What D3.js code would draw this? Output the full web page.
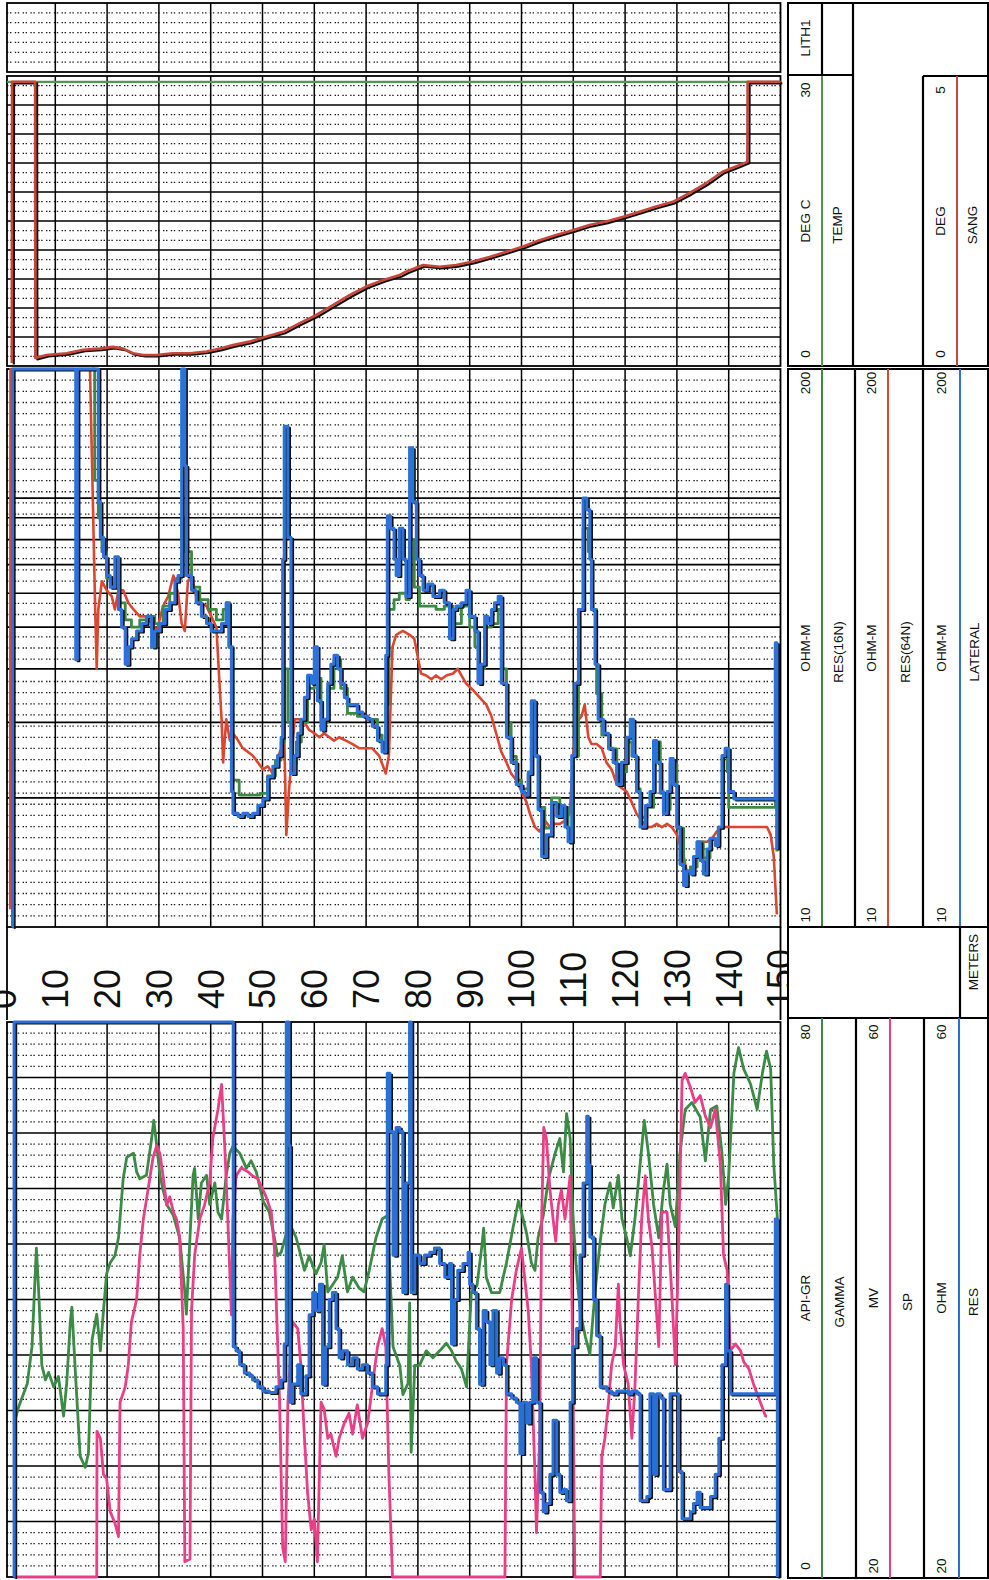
<!DOCTYPE html>
<html>
<head>
<meta charset="utf-8">
<script src="https://cdn.jsdelivr.net/npm/d3@7"></script>
<style>
  body { margin: 0; background: #fff; }
  svg { display: block; }
  text { font-family: "Liberation Sans", Arial, sans-serif; fill: #111; }
</style>
</head>
<body>
<div id="log"></div>
<script>
// depth in metres, values
const depthTicks = [0, 10, 20, 30, 40, 50, 60, 70, 80, 90, 100, 110, 120, 130, 140, 150];

const track1Heads = [
  { name: "GAMMA", unit: "API-GR", lo: "0", hi: "80" },
  { name: "SP", unit: "MV", lo: "20", hi: "60" },
  { name: "RES", unit: "OHM", lo: "20", hi: "60" }
];
const track2Heads = [
  { name: "RES(16N)", unit: "OHM-M", lo: "10", hi: "200" },
  { name: "RES(64N)", unit: "OHM-M", lo: "10", hi: "200" },
  { name: "LATERAL", unit: "OHM-M", lo: "10", hi: "200" }
];
const track3Heads = [
  { name: "TEMP", unit: "DEG C", lo: "0", hi: "30" },
  { name: "SANG", unit: "DEG", lo: "0", hi: "5" }
];

// track 1
const grData = [[2.0,22],[3.0,24.7],[4.6,27.9],[5.5,33.2],[6.35,47.4],[6.8,41],[7.4,30.5],[8.1,28.4],[8.7,29.5],[9.7,27.4],[10.6,28.9],[11.6,23.2],[12.2,27.9],[12.9,36.8],[13.2,38.9],[13.8,30.5],[14.8,17.4],[15.8,15.8],[16.4,17.9],[17.1,34.2],[18.0,37.9],[18.7,32.6],[19.3,38.4],[19.9,43.7],[20.6,45.3],[21.5,46.3],[22.2,48.9],[23.1,57.4],[23.8,60.5],[25.1,61.1],[25.7,58.4],[26.3,57.4],[27.6,57.9],[28.6,63.2],[29.0,65.8],[29.6,62.1],[30.2,57.9],[30.8,55.8],[31.5,53.7],[32.8,52.1],[34.0,48.9],[35.0,41.1],[35.3,37.9],[36.0,48.9],[36.6,57.9],[36.9,58.9],[37.6,51.6],[38.2,56.8],[39.2,57.9],[39.8,53.7],[40.8,56.8],[41.4,52.6],[42.1,51.6],[43.0,57.9],[43.7,61.1],[44.3,62.1],[45.6,61.1],[46.9,58.9],[47.8,60],[48.8,58.4],[50.1,54.2],[51.3,52.6],[52.3,48.9],[52.9,46.3],[53.6,46.8],[54.6,49.5],[55.5,50.5],[56.5,48.9],[57.4,46.3],[58.1,44.2],[59.0,46.3],[60.3,43.7],[61.3,45.3],[61.9,47.9],[62.6,41.1],[63.5,42.1],[64.5,43.2],[65.4,46.3],[66.4,41.1],[67.4,43.2],[68.7,41.6],[69.6,41.1],[70.6,44.2],[71.9,48.9],[73.1,51.6],[74.1,52.1],[74.6,44],[75.2,33.2],[76.5,30.5],[77.1,26.3],[78.1,27.9],[78.4,39.5],[78.7,18],[79.4,30.5],[80.3,30.5],[81.6,32.6],[82.9,31.6],[84.2,32.6],[85.5,33.7],[86.5,32.6],[87.4,31.1],[88.4,30],[89.4,27.4],[90.3,41],[91.4,42],[92.3,47.4],[92.7,50.3],[93.2,43.2],[94.2,41],[95.8,41],[97.1,45.3],[98.4,50.5],[99.4,54.2],[100,52.6],[101,49.5],[101.9,45.3],[102.6,44.2],[103.2,48.9],[104.2,52.1],[105.2,57.4],[106.5,61.1],[107.4,63.2],[108.1,58.4],[108.7,66.8],[109.4,63.2],[109.9,52.6],[110.5,45.3],[111.3,38.4],[112.3,34.7],[113.2,32.1],[114.2,41.1],[115.2,48.4],[116.1,53.7],[117.1,56.8],[117.7,53.2],[118.7,57.9],[119.4,51.6],[120.3,48.9],[121,46.3],[121.9,51.6],[122.9,59.5],[123.7,65.8],[124.5,61.1],[125.5,53.7],[126.5,48.9],[127.4,55.8],[128.1,59.5],[128.7,53.7],[129.7,50.5],[130.6,61.1],[131.6,67.4],[132.9,68.4],[134.5,66.3],[135.5,60],[136.5,67.4],[137.7,67.9],[138.7,61.1],[139.4,53.7],[140,57.9],[141,72.6],[141.9,76.3],[142.9,73.2],[144.2,71.1],[145.5,67.4],[146.5,72.6],[147.3,75.8],[148.1,73.2],[148.7,59.5],[149.4,51.6]];

const spData = [[2.0,20],[18.0,20],[18.05,30.5],[18.7,30],[19.3,27.4],[19.9,27.1],[20.6,24.7],[21.5,23.9],[22.2,22.9],[22.5,32.6],[23.5,33.7],[24.1,35.3],[24.7,38.4],[25.7,40],[26.3,43.2],[27.0,45.8],[27.9,47.9],[28.9,50.3],[29.6,51.1],[30.2,50.5],[30.8,48.9],[31.5,46.8],[32.1,47.4],[32.8,46.3],[33.4,45.8],[34.0,44.5],[34.7,37.9],[35.0,21.1],[36.0,21.3],[36.3,39.2],[36.9,43.2],[37.9,45.8],[38.8,46.8],[39.8,48.4],[40.4,51.6],[41.4,53.7],[42.1,55.5],[42.7,51.1],[43.3,45.8],[44.0,38.9],[44.3,45.8],[44.9,48.9],[45.9,49.5],[47.2,49.2],[48.1,48.9],[49.1,48.7],[50.1,47.9],[50.7,47.4],[51.7,46.3],[52.3,43.7],[52.6,40.5],[53.3,32.6],[53.9,22.1],[54.4,21.1],[54.9,32.6],[55.8,38.4],[56.8,37.9],[57.4,35.3],[58.1,30],[58.7,26.1],[59.4,23.4],[60,24.2],[60.6,21.1],[61.3,32.6],[61.9,32.1],[62.6,30],[63.2,30.3],[64.2,28.7],[64.8,30],[65.8,31.1],[66.7,31.8],[67.4,30.3],[68.3,32.4],[69.3,30],[70.3,31.1],[71.2,33.7],[72.2,36.6],[73.1,37.9],[73.8,36.6],[74.4,27.4],[75.1,20],[96.8,20],[97.1,35.3],[98.1,40],[99.0,42.1],[100,43.7],[100.6,41.6],[101.3,39.2],[101.9,35.3],[102.6,27.4],[102.9,23.2],[103.5,30],[103.9,45.8],[104.3,52.4],[104.8,51.6],[105.5,47.9],[106.1,45.8],[106.6,44.2],[107.1,46.8],[107.7,47.9],[108.4,45.8],[109.4,48.9],[109.9,35.5],[110.3,20],[115.2,20],[115.5,28.7],[116.1,30],[116.8,32.6],[117.4,35.3],[118.1,36.6],[118.7,41.1],[119,38.4],[119.7,35.3],[120.6,33.9],[121.3,30],[121.9,33.7],[122.6,40.5],[123.2,45.8],[123.9,48.9],[124.5,45.8],[125.2,43.7],[125.8,40.5],[126.5,36.6],[127.1,46.3],[128.1,46.3],[129,40.5],[129.7,35.3],[130.3,43.2],[131,55.8],[131.6,56.3],[132.6,55.3],[133.5,54.2],[134.5,54.7],[135.5,53.2],[136.5,52.4],[137.4,53.7],[138.4,49.7],[139,43.2],[139.7,42.1],[140.3,36.3],[141.3,36.8],[142.3,36.3],[142.9,35.5],[143.9,35],[144.8,33.9],[146.1,32.6],[147.1,31.6],[147.4,31.6]];

const resData = [[2.0,20],[2.05,60],[44.3,60],[44.35,36.6],[44.9,36.3],[45.6,35.3],[46.5,34.7],[47.5,34.5],[48.1,34.2],[49.1,33.7],[50.1,33.4],[51.3,33.3],[52.6,33.7],[53.6,34.2],[54.2,36.8],[54.6,60],[55.1,51.1],[55.3,32.6],[55.8,33.9],[56.8,35.3],[57.4,33.2],[58.4,34.5],[59.0,38.9],[59.7,40.5],[60.3,39.2],[61.0,41.1],[61.6,33.9],[62.2,36.6],[62.9,40],[63.5,40.5],[64.2,37.9],[64.8,35.8],[65.4,36.3],[66.4,35.3],[67.4,35.8],[68.3,35],[69.3,35.3],[70.3,34.7],[71.2,33.7],[72.2,33.2],[73.1,33.2],[73.8,35.3],[74.1,56.3],[74.6,52.1],[75.2,43.2],[75.8,52.4],[76.5,52.1],[77.1,40.5],[77.7,48.4],[78.4,60],[78.7,40.5],[79.4,43.2],[80.3,42.6],[81.3,43.2],[82.3,43.4],[83.2,43.7],[84.2,42.6],[85.2,41.6],[86.1,42.6],[86.5,36.8],[87.1,40],[87.7,42.1],[88.7,42.6],[89.7,43.4],[90.0,41.1],[90.6,40.5],[91.3,37.9],[91.9,33.9],[92.6,39.2],[93.2,38.4],[93.9,35.3],[94.5,39.2],[95.2,34.7],[95.8,35.8],[96.5,35.3],[97.1,33.2],[98.1,32.9],[99.0,32.6],[99.7,28.9],[100.3,32.6],[101.0,31.1],[101.6,32.6],[102.3,35.8],[102.9,32.6],[103.6,26.1],[104.2,24.7],[104.8,25.3],[105.5,27.4],[106.1,31.3],[106.8,27.4],[107.4,26.1],[108.1,26.3],[108.7,25.5],[109.4,32.6],[109.9,36.6],[110.6,37.9],[111.3,43.2],[111.9,48.4],[112.6,53.2],[112.9,49.7],[113.2,44.5],[113.9,40],[114.5,37.4],[115.2,33.7],[116.5,33.4],[117.4,33.2],[118.4,33.4],[119.7,33.4],[120.6,33.2],[121.3,33.4],[122.3,33.2],[122.9,25.5],[124.2,25.8],[124.8,33.2],[125.5,27.4],[126.1,33.2],[126.8,32.9],[127.4,26.3],[128.4,26.3],[128.7,33.2],[129.7,33.2],[130.3,27.6],[131.0,24.2],[131.9,24.2],[132.6,24.7],[133.2,25.3],[133.9,26.1],[134.5,25],[135.5,25],[136.5,25.8],[137.4,27.4],[138.1,30],[138.7,35.3],[139.4,41.1],[139.7,36.3],[140.3,33.2],[148.7,33.2],[149.0,45.8],[149.4,20]];

// track 2 (log ohm-m)
const res16Data = [[17.0,200],[17.6,110],[18.3,90],[19.0,75],[19.9,65],[21.0,62],[22.2,57],[23.5,52],[24.7,50],[26.3,52],[27.6,53],[29.2,51],[30.8,56],[32.1,60],[33.4,65],[34.4,90],[35.0,75],[36.3,62],[37.9,58],[39.5,55],[41.1,52],[42.4,55],[43.0,57],[43.7,45],[44.3,22],[45.5,20.3],[47.5,20.3],[49.5,20.5],[51.0,22.5],[52.5,24.5],[53.6,27],[54.2,40],[54.9,30],[55.5,24],[56.5,27],[57.5,30],[58.7,36],[60.0,38],[61.3,30],[62.6,36],[63.8,42],[65.1,36],[66.4,31.5],[68.3,31],[70.3,30.5],[72.2,28],[73.1,26],[73.8,33],[74.4,55],[75.4,58],[76.4,60],[77.7,58],[78.4,80],[79.3,62],[80.3,56],[81.9,56],[83.5,55],[85.1,56],[86.8,51],[88.4,56],[90.0,50],[91.0,45],[91.9,40],[92.9,50],[94.2,51],[95.5,55],[96.1,40],[97.1,30],[98.0,25],[99.0,22],[100.0,21],[101.3,23],[101.9,30],[102.6,25],[103.5,19],[104.5,17],[105.8,20],[107.4,19],[109.0,17],[110.0,25],[111.0,55],[111.9,85],[112.9,75],[113.5,55],[114.5,35],[115.5,28],[116.8,26],[118.4,22.5],[119.3,23],[120.3,27],[121.3,25],[122.2,21],[122.9,18],[124.2,19],[125.5,27],[126.8,20.5],[127.4,18.8],[128.7,24],[130.0,17],[131.3,13.5],[132.6,13.8],[133.9,15.8],[135.1,14.5],[136.4,16],[138.0,17],[139.0,25],[139.7,23],[140.0,19],[141.0,19],[148.1,19],[149.0,45],[149.3,15]];

const res64Data = [[1.3,11],[1.35,200],[16.7,200],[17.1,119],[17.4,81],[17.7,55],[18.0,40],[18.3,55],[19.0,64],[19.9,61],[20.9,59],[21.5,55],[22.2,61],[23.1,61],[24.1,57],[25.1,55],[26.3,53],[27.6,53],[28.6,51],[29.6,49],[30.8,56],[31.8,59],[32.8,66],[33.7,60],[34.4,51],[35.0,49],[35.6,64],[36.3,66],[37.2,59],[38.2,57],[39.2,56],[40.1,53],[41.1,50],[41.7,37],[42.1,30.5],[42.4,24.2],[43.0,30.5],[43.7,27.2],[44.3,28.3],[45.3,27.2],[46.2,26.1],[47.2,25.6],[48.1,25.1],[49.1,24.2],[50.1,23.3],[51.0,23.7],[52.0,22.8],[52.9,24.7],[53.6,26.1],[54.2,27.7],[54.6,16.4],[55.1,20.7],[55.5,23.7],[56.2,30.5],[57.1,30.5],[58.1,30],[59.0,28.8],[60.0,28.3],[61.0,27.7],[61.9,28.3],[62.9,27.7],[63.8,27.2],[64.8,27.7],[66.1,27.2],[67.4,26.7],[68.7,26.1],[69.9,26.1],[71.2,26.1],[72.5,25.1],[73.8,22.8],[74.4,25.1],[75.1,45],[75.8,48],[77.1,49],[78.4,48],[79.3,47],[80.0,42.5],[80.6,39],[81.6,38.6],[82.6,37.8],[83.5,38.6],[84.5,37.8],[85.5,38.6],[86.8,39],[87.7,40],[88.4,38.6],[89.3,37],[90.6,35.7],[91.9,34.3],[93.2,33],[94.2,31],[95.1,28.3],[96.1,25.6],[97.1,24.2],[98.0,22.8],[99.0,22],[100.0,20.7],[101.0,19.5],[101.6,18.4],[102.6,17.1],[103.5,16.7],[104.5,17.7],[105.5,17.1],[106.4,17.4],[107.4,17.4],[108.4,17.7],[109.3,18.4],[110.0,25.1],[110.6,30],[111.6,31],[112.2,33],[112.9,27.7],[113.5,26.7],[114.5,26.7],[115.5,26.1],[116.4,24.2],[117.4,23.3],[118.4,21.5],[119.3,21.1],[120.3,20.7],[121.3,19.5],[122.2,18.4],[123.2,17.7],[124.2,17.1],[125.1,17.1],[126.1,17.4],[127.1,17.1],[128.1,17.4],[129.0,17.1],[130.0,16.4],[130.6,15.5],[131.3,14.6],[131.9,13.5],[132.9,13.5],[133.9,14.6],[134.8,15.8],[135.8,15.8],[136.8,16.1],[137.7,16.7],[138.7,17.1],[139.7,17.1],[147.4,17.1],[148.1,16.4],[148.7,14.6],[149.3,10.7]];

const lateralData = [[1.7,10],[1.75,200],[13.9,200],[13.95,42],[14.2,42],[14.25,200],[18.0,200],[18.3,98],[18.7,81],[19.3,73],[19.9,66],[20.6,62],[21.5,73],[22.2,55],[22.8,50],[23.5,41],[24.1,45],[24.7,47],[25.7,49],[26.7,51],[27.6,53],[28.6,45],[29.2,49],[30.2,51],[31.2,55],[32.1,57],[33.1,64],[33.7,66],[34.4,200],[35.0,119],[35.3,66],[36.3,61],[37.2,57],[38.2,53],[39.2,51],[40.1,49],[41.1,49],[42.1,51],[43.0,57],[43.5,45],[44.0,20.7],[44.3,18.4],[45.3,18.1],[46.2,18.4],[47.2,18.1],[48.1,18.4],[49.1,19.2],[50.1,19.9],[51.0,22.4],[52.0,23.7],[52.9,25.1],[53.6,27.7],[53.9,72],[54.2,147],[54.9,81],[55.5,22.8],[56.2,25.1],[56.8,28.3],[57.4,30.5],[58.1,34.3],[58.7,38.6],[59.4,37],[60.0,45],[60.6,33.7],[61.3,28.8],[61.9,30.5],[62.6,37],[63.2,41],[63.8,43],[64.5,40],[65.1,37],[65.8,34.3],[66.4,33],[67.4,33],[68.3,31.7],[69.3,31],[70.3,30.5],[71.2,29.4],[72.2,27.2],[73.1,25.6],[73.8,43],[74.1,91],[74.7,85],[75.4,72],[75.8,66],[76.4,85],[77.1,72],[77.7,59],[78.4,131],[79.0,98],[79.7,72],[80.3,66],[81.0,61],[81.9,63],[82.9,59],[84.2,61],[85.1,57],[86.1,47],[86.8,55],[87.4,56],[88.4,57],[89.3,61],[90.0,53],[91.0,49],[91.6,37],[92.2,41],[92.9,53],[93.5,51],[94.2,55],[94.8,57],[95.5,59],[96.1,37],[97.1,27.7],[98.0,24.2],[99.0,21.5],[100.0,20.7],[100.6,20.3],[101.3,22.8],[101.9,33.7],[102.6,25.1],[103.2,18.8],[103.9,14.6],[104.8,16.4],[105.8,19.5],[106.8,18.1],[107.7,19.2],[108.4,17.1],[109.0,15.8],[109.7,25.1],[110.3,37],[111.0,55],[111.9,100],[112.6,94],[113.2,72],[113.5,55],[114.2,41],[114.8,30.5],[115.8,28.3],[116.8,26.1],[117.7,24.2],[118.4,21.5],[119.3,24.2],[120.3,27.7],[121.0,30.5],[121.6,25.1],[122.2,20.7],[122.9,17.1],[123.9,19.2],[124.8,20.7],[125.5,27.2],[126.1,24.2],[126.8,20.7],[127.4,18.4],[128.1,20.7],[128.7,24.7],[129.3,21.5],[130.0,17.1],[130.6,14],[131.3,12.5],[131.9,13.5],[132.6,13.3],[133.2,14.6],[133.9,15.8],[134.5,14.3],[135.1,13.3],[135.8,15.2],[136.4,16.1],[137.4,15.5],[138.0,17.1],[138.7,25.1],[139.3,26.1],[140.0,20.7],[141.0,19.9],[148.7,19.9],[149.0,46],[149.3,15.2]];

// track 3
const tempData = [[0.7,29.4],[75,29.4],[150,29.4]];
const sangData = [[1.6,0.05],[1.65,4.9],[6.1,4.9],[6.15,0.14],[8.3,0.19],[12.2,0.22],[15.4,0.28],[18.6,0.30],[21.1,0.33],[23.1,0.30],[25.0,0.22],[27.0,0.19],[29.5,0.19],[32.7,0.22],[36.0,0.22],[39.2,0.25],[41.8,0.30],[44.3,0.36],[47.5,0.42],[50.8,0.51],[54.0,0.59],[57.2,0.74],[60.4,0.88],[63.6,1.05],[66.8,1.22],[70.0,1.37],[73.2,1.48],[76.5,1.57],[77.8,1.63],[81.0,1.74],[84.2,1.71],[87.4,1.74],[90.6,1.80],[93.8,1.88],[97.1,1.97],[100.3,2.06],[103.5,2.17],[106.7,2.26],[109.9,2.34],[113.1,2.43],[116.3,2.49],[119.5,2.57],[122.8,2.66],[126.0,2.75],[129.2,2.83],[132.4,2.98],[135.6,3.15],[138.8,3.35],[141.4,3.44],[143.6,3.52],[143.65,4.9],[150,4.9]];

const W = 989, H = 1580;
const X0 = 7, X1 = 780.5;
const T = { lith: [3, 72], t3: [76, 366], t2: [369, 927], depth: [927, 1020], t1: [1022, 1577] };

const x = d3.scaleLinear().domain([0, 150]).range([3.5, 780.5]);
const yGR = d3.scaleLinear().domain([0, 80]).range([T.t1[1], T.t1[0]]);
const ySP = d3.scaleLinear().domain([20, 60]).range([T.t1[1], T.t1[0]]);
const yRES = d3.scaleLinear().domain([20, 60]).range([T.t1[1], T.t1[0]]);
const yLog = d3.scaleLog().domain([10, 200]).range([T.t2[1], T.t2[0]]);
const yTemp = d3.scaleLinear().domain([0, 30]).range([T.t3[1], T.t3[0]]);
const ySang = d3.scaleLinear().domain([0, 5]).range([T.t3[1], T.t3[0]]);

const svg = d3.select("#log").append("svg").attr("width", W).attr("height", H);
svg.append("rect").attr("width", W).attr("height", H).attr("fill", "#fff");

const defs = svg.append("defs");

function grid(key, majorYs, dotYs) {
  const [y0, y1] = T[key];
  const g = svg.append("g");
  g.selectAll("line.dot").data(dotYs).join("line")
    .attr("x1", X0).attr("x2", X1).attr("y1", d => d).attr("y2", d => d)
    .attr("stroke", "#1a1a1a").attr("stroke-width", 1.3)
    .attr("stroke-dasharray", "1.4,1.6,1.4,3.4");
  g.selectAll("line.v").data(depthTicks.filter(d => d > 0 && d < 150)).join("line")
    .attr("x1", d => x(d)).attr("x2", d => x(d)).attr("y1", y0).attr("y2", y1)
    .attr("stroke", "#000").attr("stroke-width", 1.5);
  g.selectAll("line.h").data(majorYs).join("line")
    .attr("x1", X0).attr("x2", X1).attr("y1", d => d).attr("y2", d => d)
    .attr("stroke", "#000").attr("stroke-width", 1.7);
  g.append("rect").attr("x", X0).attr("y", y0).attr("width", X1 - X0).attr("height", y1 - y0)
    .attr("fill", "none").attr("stroke", "#000").attr("stroke-width", 1.8);

  defs.append("clipPath").attr("id", "clip-" + key)
    .append("rect").attr("x", X0 - 2).attr("y", y0 - 2).attr("width", X1 - X0 + 4).attr("height", y1 - y0 + 4);
}

function near(v, arr, tol) { return arr.some(a => Math.abs(a - v) < tol); }

// LITH
const lithDots = d3.range(1, 7).map(i => T.lith[0] + i * (T.lith[1] - T.lith[0]) / 7);
grid("lith", [], lithDots);

// track 3: 10 divisions, 2 dotted rows each
const t3Major = d3.range(0.5, 5, 0.5).map(v => ySang(v));
const t3Dots = d3.range(1, 30).filter(i => i % 3 !== 0).map(i => ySang(i * 5 / 30));
grid("t3", t3Major, t3Dots);

// track 2: log grid
const t2Major = [20, 30, 40, 50, 60, 70, 80, 90, 100].map(v => yLog(v));
const t2Step = (T.t2[1] - T.t2[0]) / 50;
const t2Dots = d3.range(1, 50).map(i => T.t2[0] + i * t2Step).filter(y => !near(y, t2Major, 3.5));
grid("t2", t2Major, t2Dots);

// track 1: 10 divisions, 4 dotted rows each
const t1Major = d3.range(8, 80, 8).map(v => yGR(v));
const t1Dots = d3.range(1, 50).filter(i => i % 5 !== 0).map(i => yGR(i * 1.6));
grid("t1", t1Major, t1Dots);

// depth band borders
svg.append("line").attr("x1", X0).attr("x2", X0).attr("y1", T.depth[0]).attr("y2", T.depth[1])
  .attr("stroke", "#000").attr("stroke-width", 1.8);
svg.append("line").attr("x1", X1).attr("x2", X1).attr("y1", T.depth[0]).attr("y2", T.depth[1])
  .attr("stroke", "#000").attr("stroke-width", 1.8);

// curves
function curve(key, data, yScale, color, width, stepped, shadow) {
  const g = svg.append("g").attr("clip-path", `url(#clip-${key})`);
  const line = d3.line().x(d => x(d[0])).y(d => yScale(d[1]))
    .curve(stepped ? d3.curveStepAfter : d3.curveLinear);
  if (shadow) {
    g.append("path").datum(data).attr("d", line).attr("fill", "none")
      .attr("stroke", "#111").attr("stroke-width", 2.2).attr("stroke-linejoin", "round")
      .attr("transform", "translate(2,1.5)");
  }
  g.append("path").datum(data).attr("d", line).attr("fill", "none")
    .attr("stroke", color).attr("stroke-width", width).attr("stroke-linejoin", "round");
}

curve("t3", tempData, yTemp, "#4f9850", 2.2, false, false);
curve("t3", sangData, ySang, "#c8453a", 2.6, false, true);

curve("t2", res64Data, yLog, "#dc4530", 2.6, false, false);
curve("t2", res16Data, yLog, "#3a8a3f", 2.8, true, false);
curve("t2", lateralData, yLog, "#2d72da", 3.1, true, true);

curve("t1", grData, yGR, "#3b8a45", 2.8, false, false);
curve("t1", spData, ySP, "#ea3f87", 2.8, false, false);
curve("t1", resData, yRES, "#2a6ed6", 3.1, true, true);

// depth labels (the 0 and 150 are cut at the track edges, as on the sheet)
defs.append("clipPath").attr("id", "clip-depth")
  .append("rect").attr("x", 0).attr("y", T.depth[0]).attr("width", 787).attr("height", T.depth[1] - T.depth[0]);
svg.append("g").attr("clip-path", "url(#clip-depth)")
  .selectAll("text").data(depthTicks).join("text")
  .attr("transform", d => `translate(${x(d)},1009) rotate(-90)`)
  .attr("dy", "0.36em").attr("text-anchor", "start")
  .style("font-size", "36px")
  .text(d => d);

// header
const H0 = 788, H1 = 988;
const hg = svg.append("g");

function vtext(cx, cy, s, size) {
  hg.append("text").attr("transform", `translate(${cx},${cy}) rotate(-90)`)
    .attr("text-anchor", "middle").attr("dy", "0.36em")
    .style("font-size", (size || 13.5) + "px").text(s);
}
function vl(xx, y0, y1, color, w) {
  hg.append("line").attr("x1", xx).attr("x2", xx).attr("y1", y0).attr("y2", y1)
    .attr("stroke", color).attr("stroke-width", w || 2.2);
}
function hl(x0, x1, yy, color, w) {
  hg.append("line").attr("x1", x0).attr("x2", x1).attr("y1", yy).attr("y2", yy)
    .attr("stroke", color).attr("stroke-width", w || 2.2);
}
function box(y0, y1) {
  hg.append("rect").attr("x", H0).attr("y", y0).attr("width", H1 - H0).attr("height", y1 - y0)
    .attr("fill", "#fff").attr("stroke", "#000").attr("stroke-width", 2);
}

// one curve entry: scale column [a, line], name column [line, b]
function headEntry(h, a, lineX, b, y0, y1, color) {
  vl(lineX, y0, y1, color, 2);
  const sc = (a + lineX) / 2, nc = (lineX + b) / 2;
  const mid = (y0 + y1) / 2;
  vtext(sc, y1 - 12, h.lo);
  vtext(sc, y0 + 14, h.hi);
  vtext(sc, mid, h.unit);
  vtext(nc, mid + 4, h.name);
}

// LITH + track 3
box(T.lith[0], T.t3[1]);
hl(H0, 853, 75, "#000");
vl(822, T.lith[0], 75, "#000");
vtext(805, 38, "LITH1");
vl(853, T.lith[0], T.t3[1], "#000");
headEntry(track3Heads[0], H0, 822, 853, 76, T.t3[1], "#4f9850");
hl(923, H1, 76, "#000");
vl(923, 76, T.t3[1], "#000");
headEntry(track3Heads[1], 923, 957, H1, 76, T.t3[1], "#c8453a");

// track 2
box(T.t2[0], T.t2[1]);
const t2Cols = [[H0, 822, 855, "#3a8a3f"], [855, 888, 923, "#dc4530"], [923, 960, H1, "#2d72da"]];
track2Heads.forEach((h, i) => {
  const c = t2Cols[i];
  if (i > 0) vl(c[0], T.t2[0], T.t2[1], "#000");
  headEntry(h, c[0], c[1], c[2], T.t2[0], T.t2[1], c[3]);
});

// depth unit
box(T.depth[0], T.depth[1] - 2);
vl(960, T.depth[0], T.depth[1] - 2, "#000");
vtext(973, 962, "METERS");

// track 1
box(T.depth[1] - 2, 1578);
const t1Cols = [[H0, 822, 856, "#3b8a45"], [856, 890, 924, "#ea3f87"], [924, 959, H1, "#2a6ed6"]];
track1Heads.forEach((h, i) => {
  const c = t1Cols[i];
  if (i > 0) vl(c[0], T.depth[1] - 2, 1578, "#000");
  headEntry(h, c[0], c[1], c[2], T.depth[1] - 2, 1578, c[3]);
});
</script>
</body>
</html>
